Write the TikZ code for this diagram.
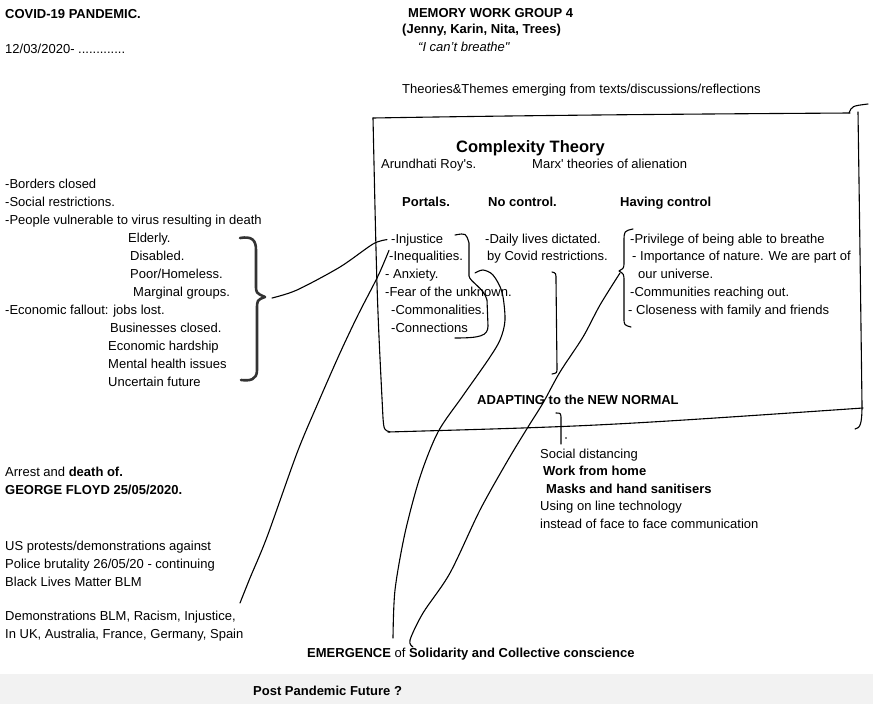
\documentclass[tikz,border=0pt]{standalone}
\usepackage{fontspec}
\setmainfont{Liberation Sans}
\begin{document}
\begin{tikzpicture}[x=1pt,y=-1pt,
	txt/.style={anchor=base west,inner sep=0pt,font=\fontsize{13}{18}\selectfont},
	hd/.style={txt,font=\fontsize{13}{18}\selectfont\bfseries},
	ink/.style={draw=black,line width=1.1pt,line cap=round,line join=round},
	brace/.style={ink,draw=black!80,line width=2.6pt}]
	\useasboundingbox (0,0) rectangle (873,704);
	\fill[black!5] (0,674) rectangle (873,704);

	% header
	\node[hd] at (5,18)(covid){COVID-19 PANDEMIC.};
	\node[txt] at (5,53)(date){12/03/2020- .............};
	\node[hd] at (408,17)(group){MEMORY WORK GROUP 4};
	\node[hd] at (402,34)(names){(Jenny, Karin, Nita, Trees)};
	\node[txt,font=\fontsize{13}{18}\selectfont\itshape] at (418,51)(quote){``I can't breathe\textquotedbl};
	\node[txt] at (402,93)(themes){Theories\&Themes emerging from texts/discussions/reflections};

	% left column
	\node[txt] at (5,188)(borders){-Borders closed};
	\node[txt] at (5,206)(social){-Social restrictions.};
	\node[txt] at (5,224)(people){-People vulnerable to virus resulting in death};
	\node[txt] at (128,242)(elderly){Elderly.};
	\node[txt] at (130,260)(disabled){Disabled.};
	\node[txt] at (130,278)(poor){Poor/Homeless.};
	\node[txt] at (133,296)(marginal){Marginal groups.};
	\node[txt] at (5,314)(econ){-Economic fallout: jobs lost.};
	\node[txt] at (110,332)(business){Businesses closed.};
	\node[txt] at (108,350)(hardship){Economic hardship};
	\node[txt] at (108,368)(mental){Mental health issues};
	\node[txt] at (108,386)(uncertain){Uncertain future};

	\node[txt] at (5,476)(arrest){Arrest and \textbf{death of.}};
	\node[hd] at (5,494)(floyd){GEORGE FLOYD 25/05/2020.};
	\node[txt] at (5,550)(usprot){US protests/demonstrations against};
	\node[txt] at (5,568)(police){Police brutality 26/05/20 - continuing};
	\node[txt] at (5,586)(blm){Black Lives Matter BLM};
	\node[txt] at (5,620)(demo){Demonstrations BLM, Racism, Injustice,};
	\node[txt] at (5,638)(inuk){In UK, Australia, France, Germany, Spain};

	% theory box
	\node[txt,font=\fontsize{16.5}{20}\selectfont\bfseries] at (456,152)(cplx){Complexity Theory};
	\node[txt] at (381,168)(roy){Arundhati Roy\textquotesingle s.};
	\node[txt] at (532,168)(marx){Marx\textquotesingle\ theories of alienation};
	\node[hd] at (402,206)(portals){Portals.};
	\node[hd] at (488,206)(noctrl){No control.};
	\node[hd] at (620,206)(havectrl){Having control};

	\node[txt] at (391,243)(inj){-Injustice};
	\node[txt] at (389,260)(ineq){-Inequalities.};
	\node[txt] at (385,278)(anx){- Anxiety.};
	\node[txt] at (385,296)(fear){-Fear of the unknown.};
	\node[txt] at (391,314)(comm){-Commonalities.};
	\node[txt] at (391,332)(conn){-Connections};

	\node[txt] at (485,243)(daily){-Daily lives dictated.};
	\node[txt] at (487,260)(bycovid){by Covid restrictions.};

	\node[txt] at (630,243)(priv){-Privilege of being able to breathe};
	\node[txt] at (632,260)(nature){- Importance of nature. We are part of};
	\node[txt] at (638,278)(universe){our universe.};
	\node[txt] at (630,296)(commout){-Communities reaching out.};
	\node[txt] at (628,314)(close){- Closeness with family and friends};

	\node[hd] at (477,404)(adapt){ADAPTING to the NEW NORMAL};

	\node[txt] at (540,458)(socdist){Social distancing};
	\node[hd] at (543,475)(wfh){Work from home};
	\node[hd] at (546,493)(masks){Masks and hand sanitisers};
	\node[txt] at (540,510)(online){Using on line technology};
	\node[txt] at (540,528)(instead){instead of face to face communication};

	% bottom
	\node[txt] at (307,657)(emerge){\textbf{EMERGENCE} of \textbf{Solidarity and Collective conscience}};
	\node[hd] at (253,695)(post){Post Pandemic Future ?};

	% hand drawn box
	\draw[ink] (373,118) .. controls (550,115) and (700,114) .. (850,113);
	\draw[ink] (849,113) .. controls (852,106) .. (868,104);
	\draw[ink] (858,112) .. controls (860,250) .. (862,405) .. controls (862,425) and (860,428) .. (855,429);
	\draw[ink] (388,432) .. controls (600,426) .. (863,408);
	\draw[ink] (373,118) .. controls (377,300) .. (383,418) .. controls (384,430) .. (390,432);

	% brackets
	\draw[brace] (240,238) .. controls (252,236) and (256,240) .. (256,250) -- (256,285)
		.. controls (256,293) .. (265,297) .. controls (257,300) .. (257,310) -- (257,370)
		.. controls (257,380) and (250,381) .. (241,380);
	\draw[ink] (455,235) .. controls (466,233) .. (469,243) -- (469,276)
		.. controls (470,282) and (484,288) .. (487,300) -- (488,326)
		.. controls (488,336) and (480,338) .. (455,338);
	\draw[ink] (552,272) .. controls (556,273) .. (556,280) -- (557,368) .. controls (557,373) .. (552,374);
	\draw[ink] (633,229) .. controls (624,231) .. (624,242) -- (624,262) .. controls (624,268) .. (619,271)
		.. controls (624,274) .. (624,282) -- (624,318) .. controls (624,325) .. (631,327);
	\draw[ink] (556,413) .. controls (561,413) .. (561,420) -- (561,444);
	\fill (566,438) circle (0.9);

	% connectors
	\coordinate (bracetip) at (272,298);
	\coordinate (portalhook) at (475,273);
	\coordinate (havetip) at (620,273);
	\coordinate (demoend) at (240,603);
	\coordinate (emA) at (393,638);
	\coordinate (emB) at (413,647);
	\draw[ink] plot[smooth] coordinates {(bracetip) (297,290) (340,267) (373,244) ([xshift=-4pt]inj.west)};
	\draw[ink] plot[smooth] coordinates {(ineq.north west) (378,276) (358,315) (340,353) (318,403) (297,453) (267,537) (250,578) (demoend)};
	\draw[ink] plot[smooth] coordinates {(portalhook) (483,270) (493,275) (502,292) (505,320) (500,340) (488,360) (462,397) (438,432) (420,477) (405,533) (395,590) (emA)};
	\draw[ink] plot[smooth] coordinates {(havetip) (600,305) (583,337) (560,372) (543,403) (528,427) (508,460) (480,510) (450,573) (423,613) (410,640) (emB)};
\end{tikzpicture}
\end{document}
